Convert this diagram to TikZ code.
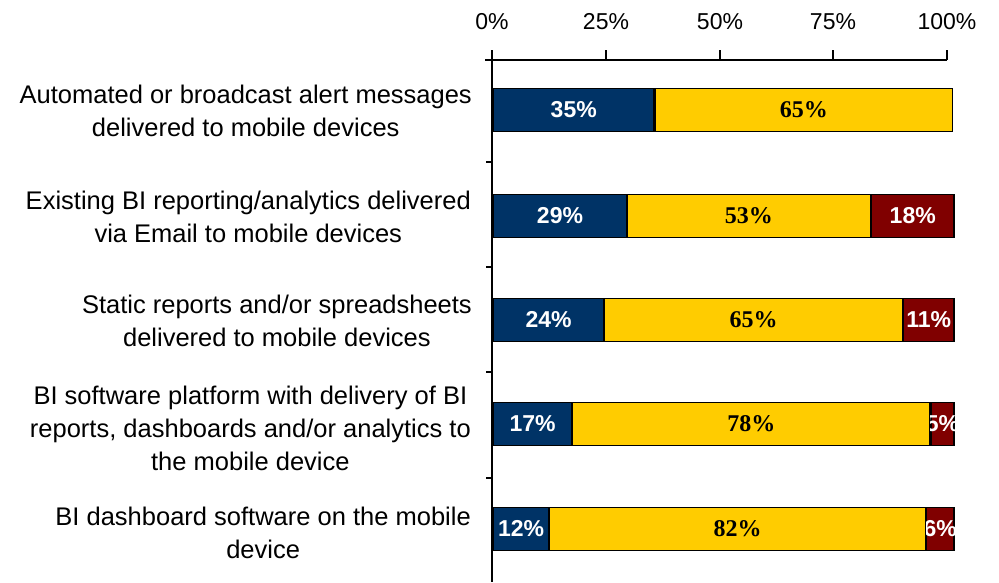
\documentclass[tikz,border=0pt]{standalone}
\usepackage{fontspec}
\setmainfont{Liberation Sans}
\newfontfamily\serifbold{Liberation Serif}
\definecolor{barnavy}{HTML}{003366}
\definecolor{bargold}{HTML}{FFCC00}
\definecolor{barred}{HTML}{800000}
\begin{document}
\begin{tikzpicture}[x=1pt,y=-1pt,
  seg/.style={draw=black, line width=1.2pt, rectangle, inner sep=0pt,
    minimum height=43pt, anchor=west},
  wlab/.style={text=white, inner sep=0pt, font=\bfseries\fontsize{23}{23}\selectfont},
  blab/.style={text=black, inner sep=0pt, font=\serifbold\bfseries\fontsize{24}{24}\selectfont},
  catlab/.style={anchor=east, align=center, inner sep=0pt,
    font=\fontsize{25.5}{33}\selectfont},
  ticklab/.style={inner sep=0pt, font=\fontsize{23}{23}\selectfont},
  axisline/.style={line width=1.3pt, black}]
\useasboundingbox (0,0) rectangle (999,582);
\fill[white] (0,0) rectangle (999,582);

% top axis
\coordinate (ax0) at (485,60);
\coordinate (ax1) at (947,60);
\coordinate (ay0) at (492,50);
\coordinate (ay1) at (492,582);
\draw[axisline] (ax0) -- (ax1);
\draw[axisline] (ay0) -- (ay1);
\foreach \x/\t [count=\i] in {492/0\%,606/25\%,720/50\%,833/75\%,947/100\%}{
  \coordinate (tk\i) at (\x,50);
  \draw[axisline] (tk\i) -- (\x,60);
  \node[ticklab] (tl\i) at (\x,22) {\t};
}
% category separators
\foreach \y [count=\i] in {162,267,372,478}{
  \coordinate (cs\i) at (486,\y);
  \draw[axisline] (cs\i) -- (492,\y);
}

% bar 1
\node[seg, fill=barnavy, minimum width=160.3pt] (b1a) at (493,110) {};
\node[seg, fill=bargold, minimum width=297.7pt] (b1b) at (b1a.east) {};
% bar 2
\node[seg, fill=barnavy, minimum width=132.8pt] (b2a) at (493,216) {};
\node[seg, fill=bargold, minimum width=242.7pt] (b2b) at (b2a.east) {};
\node[seg, fill=barred, minimum width=82.5pt] (b2c) at (b2b.east) {};
% bar 3
\node[seg, fill=barnavy, minimum width=109.9pt] (b3a) at (493,320) {};
\node[seg, fill=bargold, minimum width=297.7pt] (b3b) at (b3a.east) {};
\node[seg, fill=barred, minimum width=50.4pt] (b3c) at (b3b.east) {};
% bar 4
\node[seg, fill=barnavy, minimum width=77.9pt] (b4a) at (493,424) {};
\node[seg, fill=bargold, minimum width=357.2pt] (b4b) at (b4a.east) {};
\node[seg, fill=barred, minimum width=22.9pt] (b4c) at (b4b.east) {};
% bar 5
\node[seg, fill=barnavy, minimum width=55pt] (b5a) at (493,529) {};
\node[seg, fill=bargold, minimum width=375.6pt] (b5b) at (b5a.east) {};
\node[seg, fill=barred, minimum width=27.4pt] (b5c) at (b5b.east) {};

% value labels
\node[wlab] (v1a) at (b1a.center) {35\%};
\node[blab] (v1b) at (b1b.center) {65\%};
\node[wlab] (v2a) at (b2a.center) {29\%};
\node[blab] (v2b) at (b2b.center) {53\%};
\node[wlab] (v2c) at (b2c.center) {18\%};
\node[wlab] (v3a) at (b3a.center) {24\%};
\node[blab] (v3b) at (b3b.center) {65\%};
\node[wlab] (v3c) at (b3c.center) {11\%};
\node[wlab] (v4a) at (b4a.center) {17\%};
\node[blab] (v4b) at (b4b.center) {78\%};
\begin{scope}
  \clip (b4c.south west) rectangle (b4c.north east);
  \node[wlab] (v4c) at (b4c.center) {5\%};
\end{scope}
\node[wlab] (v5a) at (b5a.center) {12\%};
\node[blab] (v5b) at (b5b.center) {82\%};
\begin{scope}
  \clip (b5c.south west) rectangle (b5c.north east);
  \node[wlab] (v5c) at (b5c.center) {6\%};
\end{scope}

% category labels
\node[catlab] (c1) at (472,111) {Automated or broadcast alert messages\\delivered to mobile devices};
\node[catlab] (c2) at (471,217) {Existing BI reporting/analytics delivered\\via Email to mobile devices};
\node[catlab] (c3) at (472,321) {Static reports and/or spreadsheets\\delivered to mobile devices};
\node[catlab] (c4) at (471,428) {BI software platform with delivery of BI\\reports, dashboards and/or analytics to\\the mobile device};
\node[catlab] (c5) at (471,533) {BI dashboard software on the mobile\\device};
\end{tikzpicture}
\end{document}
